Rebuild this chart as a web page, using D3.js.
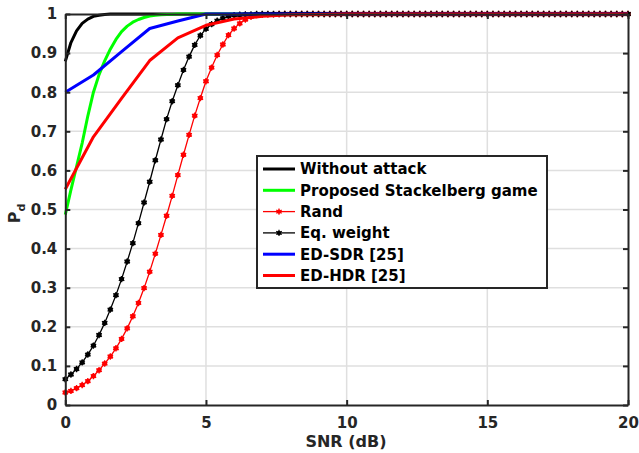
<!DOCTYPE html>
<html>
<head>
<meta charset="utf-8">
<script src="https://cdn.jsdelivr.net/npm/d3@7/dist/d3.min.js"></script>
<style>
  body { margin: 0; background: #fff; }
  text { font-family: "DejaVu Sans", "Liberation Sans", Arial, sans-serif; font-weight: bold; fill: #262626; }
</style>
</head>
<body>
<div id="chart"></div>
<script>
// SNR grids (dB)
const snrFine = [
  0, 0.2, 0.4, 0.6, 0.8, 1, 1.2, 1.4, 1.6, 1.8,
  2, 2.2, 2.4, 2.6, 2.8, 3, 3.2, 3.4, 3.6, 3.8,
  4, 4.2, 4.4, 4.6, 4.8, 5, 5.2, 5.4, 5.6, 5.8,
  6, 6.2, 6.4, 6.6, 6.8, 7, 7.2, 7.4, 7.6, 7.8,
  8, 8.2, 8.4, 8.6, 8.8, 9, 9.2, 9.4, 9.6, 9.8,
  10, 10.2, 10.4, 10.6, 10.8, 11, 11.2, 11.4, 11.6, 11.8,
  12, 12.2, 12.4, 12.6, 12.8, 13, 13.2, 13.4, 13.6, 13.8,
  14, 14.2, 14.4, 14.6, 14.8, 15, 15.2, 15.4, 15.6, 15.8,
  16, 16.2, 16.4, 16.6, 16.8, 17, 17.2, 17.4, 17.6, 17.8,
  18, 18.2, 18.4, 18.6, 18.8, 19, 19.2, 19.4, 19.6, 19.8,
  20
];
const snrSmooth = [
  0, 0.2, 0.4, 0.6, 0.8, 1, 1.2, 1.4, 1.6, 1.8,
  2, 2.2, 2.4, 2.6, 2.8, 3, 3.2, 3.4, 3.6, 3.8,
  4, 5, 6, 7, 8, 9, 10, 11, 12, 13, 14, 15, 16, 17, 18, 19, 20
];
const snrInt = [0, 1, 2, 3, 4, 5, 6, 7, 8, 9, 10, 11, 12, 13, 14, 15, 16, 17, 18, 19, 20];

// Pd values
const pdNoAttack = [
  0.879, 0.927, 0.957, 0.976, 0.987, 0.994, 0.997, 0.999, 1, 1,
  1, 1, 1, 1, 1, 1, 1, 1, 1, 1,
  1, 1, 1, 1, 1, 1, 1, 1, 1, 1, 1, 1, 1, 1, 1, 1, 1
];
const pdStackelberg = [
  0.487, 0.55, 0.61, 0.67, 0.739, 0.80, 0.845, 0.880, 0.910, 0.935,
  0.955, 0.969, 0.979, 0.986, 0.991, 0.995, 0.997, 0.998, 0.999, 0.999,
  1, 1, 1, 1, 1, 1, 1, 1, 1, 1, 1, 1, 1, 1, 1, 1, 1
];
const pdRand = [
  0.032, 0.036, 0.043, 0.051, 0.061, 0.074, 0.089, 0.106, 0.124, 0.145,
  0.169, 0.196, 0.227, 0.261, 0.299, 0.341, 0.387, 0.435, 0.484, 0.535,
  0.588, 0.640, 0.691, 0.740, 0.785, 0.828, 0.863, 0.895, 0.922, 0.946,
  0.963, 0.976, 0.986, 0.993, 0.997, 0.998, 0.999, 0.999, 1, 1,
  1, 1, 1, 1, 1, 1, 1, 1, 1, 1,
  1, 1, 1, 1, 1, 1, 1, 1, 1, 1,
  1, 1, 1, 1, 1, 1, 1, 1, 1, 1,
  1, 1, 1, 1, 1, 1, 1, 1, 1, 1,
  1, 1, 1, 1, 1, 1, 1, 1, 1, 1,
  1, 1, 1, 1, 1, 1, 1, 1, 1, 1,
  1
];
const pdEqWeight = [
  0.066, 0.078, 0.092, 0.109, 0.129, 0.152, 0.179, 0.210, 0.244, 0.281,
  0.322, 0.367, 0.414, 0.465, 0.518, 0.571, 0.626, 0.679, 0.731, 0.777,
  0.818, 0.857, 0.891, 0.921, 0.945, 0.962, 0.974, 0.983, 0.989, 0.994,
  0.997, 0.998, 0.999, 0.999, 1, 1, 1, 1, 1, 1,
  1, 1, 1, 1, 1, 1, 1, 1, 1, 1,
  1, 1, 1, 1, 1, 1, 1, 1, 1, 1,
  1, 1, 1, 1, 1, 1, 1, 1, 1, 1,
  1, 1, 1, 1, 1, 1, 1, 1, 1, 1,
  1, 1, 1, 1, 1, 1, 1, 1, 1, 1,
  1, 1, 1, 1, 1, 1, 1, 1, 1, 1,
  1
];
const pdEdSdr = [0.80, 0.844, 0.904, 0.963, 0.982, 1, 1, 1, 1, 1, 1, 1, 1, 1, 1, 1, 1, 1, 1, 1, 1];
const pdEdHdr = [0.552, 0.686, 0.784, 0.881, 0.939, 0.971, 0.987, 0.994, 0.998, 0.999, 1, 1, 1, 1, 1, 1, 1, 1, 1, 1, 1];

// Tick labels
const xTicks = [0, 5, 10, 15, 20];
const yTicks = [0, 0.1, 0.2, 0.3, 0.4, 0.5, 0.6, 0.7, 0.8, 0.9, 1];

const series = [
  { name: 'Without attack', x: snrSmooth, y: pdNoAttack, color: '#000000', width: 3, marker: false },
  { name: 'Proposed Stackelberg game', x: snrSmooth, y: pdStackelberg, color: '#00ff00', width: 3, marker: false },
  { name: 'Rand', x: snrFine, y: pdRand, color: '#ff0000', width: 1.3, marker: true },
  { name: 'Eq. weight', x: snrFine, y: pdEqWeight, color: '#000000', width: 1.3, marker: true },
  { name: 'ED-SDR [25]', x: snrInt, y: pdEdSdr, color: '#0000ff', width: 3, marker: false },
  { name: 'ED-HDR [25]', x: snrInt, y: pdEdHdr, color: '#ff0000', width: 3, marker: false }
];

const W = 639, H = 453;
const plot = { left: 65.3, right: 628, top: 14, bottom: 405 };

const svg = d3.select('#chart').append('svg')
  .attr('width', W)
  .attr('height', H);

const xScale = d3.scaleLinear().domain([0, 20]).range([plot.left, plot.right]);
const yScale = d3.scaleLinear().domain([0, 1]).range([plot.bottom, plot.top]);

// grid
svg.append('g').selectAll('line')
  .data(xTicks.slice(1, -1))
  .enter().append('line')
  .attr('x1', d => xScale(d)).attr('x2', d => xScale(d))
  .attr('y1', plot.top).attr('y2', plot.bottom)
  .attr('stroke', '#dfdfdf').attr('stroke-width', 1.5);
svg.append('g').selectAll('line')
  .data(yTicks.slice(1, -1))
  .enter().append('line')
  .attr('y1', d => yScale(d)).attr('y2', d => yScale(d))
  .attr('x1', plot.left).attr('x2', plot.right)
  .attr('stroke', '#dfdfdf').attr('stroke-width', 1.5);

// curves
const line = d3.line();
const marker = d3.symbol().type(d3.symbolAsterisk).size(28);

series.forEach(s => {
  const pts = s.x.map((v, i) => [xScale(v), yScale(s.y[i])]);
  svg.append('path')
    .attr('d', line(pts))
    .attr('fill', 'none')
    .attr('stroke', s.color)
    .attr('stroke-width', s.width)
    .attr('stroke-linejoin', 'round');
  if (s.marker) {
    const g = svg.append('g');
    g.selectAll('circle')
      .data(pts)
      .enter().append('circle')
      .attr('cx', d => d[0]).attr('cy', d => d[1])
      .attr('r', 2.5)
      .attr('fill', s.color);
    g.selectAll('path')
      .data(pts)
      .enter().append('path')
      .attr('transform', d => 'translate(' + d[0] + ',' + d[1] + ')')
      .attr('d', marker)
      .attr('fill', 'none')
      .attr('stroke', s.color)
      .attr('stroke-width', 1.3);
  }
});

// axes (box with inward ticks)
const axisColor = '#262626';
const xAxis = svg.append('g')
  .attr('transform', 'translate(0,' + plot.bottom + ')')
  .call(d3.axisBottom(xScale).tickValues(xTicks).tickFormat(d3.format('d'))
    .tickSizeInner(-5).tickSizeOuter(0).tickPadding(12));
const yAxis = svg.append('g')
  .attr('transform', 'translate(' + plot.left + ',0)')
  .call(d3.axisLeft(yScale).tickValues(yTicks).tickFormat(d => d === 0 || d === 1 ? d : d3.format('.1f')(d))
    .tickSizeInner(-5).tickSizeOuter(0).tickPadding(8));
const xTop = svg.append('g')
  .attr('transform', 'translate(0,' + plot.top + ')')
  .call(d3.axisTop(xScale).tickValues(xTicks).tickFormat('').tickSizeInner(-5).tickSizeOuter(0));
const yRight = svg.append('g')
  .attr('transform', 'translate(' + plot.right + ',0)')
  .call(d3.axisRight(yScale).tickValues(yTicks).tickFormat('').tickSizeInner(-5).tickSizeOuter(0));

[xAxis, yAxis, xTop, yRight].forEach(a => {
  a.select('.domain').attr('stroke', axisColor).attr('stroke-width', 2);
  a.selectAll('.tick line').attr('stroke', axisColor).attr('stroke-width', 2);
  a.selectAll('.tick text')
    .attr('fill', axisColor)
    .style('font-size', '15px')
    .style('font-family', '"DejaVu Sans", "Liberation Sans", Arial, sans-serif')
    .style('font-weight', 'bold');
});

// axis titles
svg.append('text')
  .attr('x', 346)
  .attr('y', 447)
  .attr('text-anchor', 'middle')
  .style('font-size', '16px')
  .text('SNR (dB)');

const yTitle = svg.append('text')
  .attr('transform', 'translate(20,' + ((plot.top + plot.bottom) / 2 + 4) + ') rotate(-90)')
  .attr('text-anchor', 'middle')
  .style('font-size', '16px');
yTitle.append('tspan').text('P');
yTitle.append('tspan').attr('dy', 5).style('font-size', '11px').text('d');

// legend
const legend = svg.append('g');
legend.append('rect')
  .attr('x', 257).attr('y', 156)
  .attr('width', 290).attr('height', 132)
  .attr('fill', '#fff')
  .attr('stroke', axisColor)
  .attr('stroke-width', 2);

const item = legend.selectAll('.legend-item')
  .data(series)
  .enter().append('g')
  .attr('class', 'legend-item')
  .attr('transform', (d, i) => 'translate(0,' + (169 + i * 21.3) + ')');

item.append('line')
  .attr('x1', 263).attr('x2', 295)
  .attr('stroke', d => d.color)
  .attr('stroke-width', d => d.width);
item.filter(d => d.marker).append('circle')
  .attr('cx', 279).attr('r', 2.2)
  .attr('fill', d => d.color);
item.filter(d => d.marker).append('path')
  .attr('transform', 'translate(279,0)')
  .attr('d', marker)
  .attr('fill', 'none')
  .attr('stroke', d => d.color)
  .attr('stroke-width', 1.2);
item.append('text')
  .attr('x', 300)
  .attr('dy', '0.36em')
  .style('font-size', '15px')
  .style('fill', '#000')
  .text(d => d.name);
</script>
</body>
</html>
